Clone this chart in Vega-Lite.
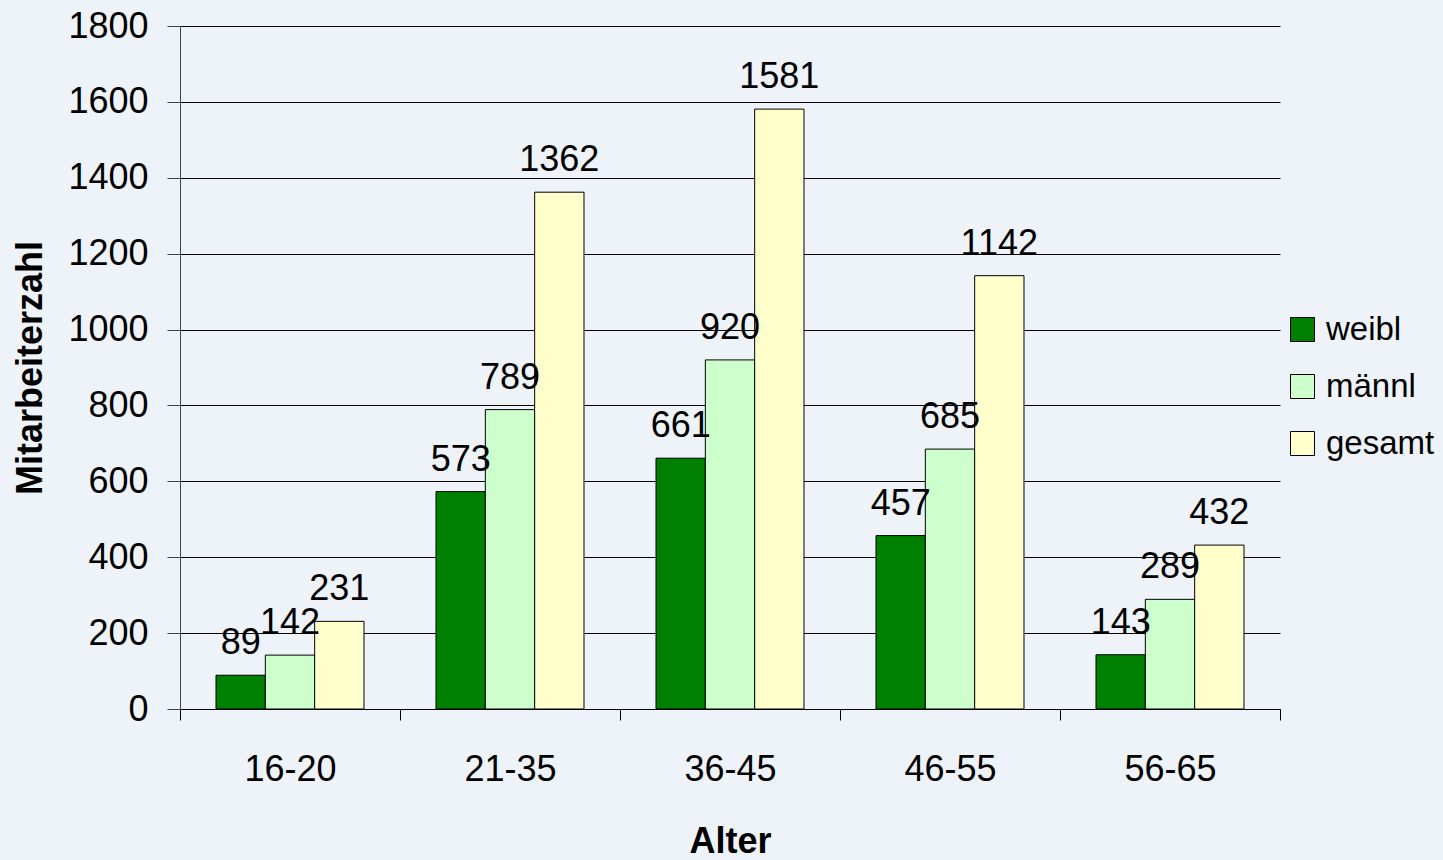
{
  "$schema": "https://vega.github.io/schema/vega-lite/v6.json",
  "autosize": "none",
  "width": 1100,
  "height": 683,
  "padding": {"left": 180, "top": 26, "right": 163, "bottom": 151},
  "background": "#EEF2F9",
  "config": {
    "view": {"stroke": null},
    "font": "Liberation Sans"
  },
  "data": {
    "values": [
      {"Alter": "16-20", "Gruppe": "weibl", "Anzahl": 89},
      {"Alter": "16-20", "Gruppe": "männl", "Anzahl": 142},
      {"Alter": "16-20", "Gruppe": "gesamt", "Anzahl": 231},
      {"Alter": "21-35", "Gruppe": "weibl", "Anzahl": 573},
      {"Alter": "21-35", "Gruppe": "männl", "Anzahl": 789},
      {"Alter": "21-35", "Gruppe": "gesamt", "Anzahl": 1362},
      {"Alter": "36-45", "Gruppe": "weibl", "Anzahl": 661},
      {"Alter": "36-45", "Gruppe": "männl", "Anzahl": 920},
      {"Alter": "36-45", "Gruppe": "gesamt", "Anzahl": 1581},
      {"Alter": "46-55", "Gruppe": "weibl", "Anzahl": 457},
      {"Alter": "46-55", "Gruppe": "männl", "Anzahl": 685},
      {"Alter": "46-55", "Gruppe": "gesamt", "Anzahl": 1142},
      {"Alter": "56-65", "Gruppe": "weibl", "Anzahl": 143},
      {"Alter": "56-65", "Gruppe": "männl", "Anzahl": 289},
      {"Alter": "56-65", "Gruppe": "gesamt", "Anzahl": 432}
    ]
  },
  "encoding": {
    "x": {
      "field": "Alter", "type": "nominal",
      "scale": {"paddingInner": 0, "paddingOuter": 0},
      "axis": {
        "title": "Alter", "titleFont": "Liberation Sans", "titleFontSize": 36, "titleFontWeight": "bold",
        "titleColor": "#000", "titlePadding": 37,
        "labelAngle": 0, "labelFontSize": 36, "labelColor": "#000", "labelPadding": 32,
        "tickBand": "extent", "tickSize": 11, "tickColor": "#000", "domainColor": "#000",
        "grid": false
      }
    },
    "xOffset": {
      "field": "Gruppe", "type": "nominal",
      "scale": {"domain": ["weibl", "männl", "gesamt"], "paddingInner": 0, "paddingOuter": 0.73}
    },
    "y": {
      "field": "Anzahl", "type": "quantitative",
      "scale": {"domain": [0, 1800], "nice": false},
      "axis": {
        "title": "Mitarbeiterzahl", "titleFont": "Liberation Sans", "titleFontSize": 36, "titleFontWeight": "bold",
        "titleColor": "#000", "titlePadding": 18,
        "values": [0, 200, 400, 600, 800, 1000, 1200, 1400, 1600, 1800],
        "format": "d",
        "labelFontSize": 36, "labelColor": "#000", "labelPadding": 19,
        "tickSize": 13, "tickColor": "#444", "domainColor": "#444",
        "grid": true, "gridColor": "#000", "gridWidth": 1, "gridOpacity": 1
      }
    }
  },
  "layer": [
    {
      "mark": {"type": "bar", "stroke": "#000", "strokeWidth": 1},
      "encoding": {
        "color": {
          "field": "Gruppe", "type": "nominal",
          "scale": {"domain": ["weibl", "männl", "gesamt"], "range": ["#008000", "#CCFFCC", "#FFFFCC"]},
          "legend": {
            "title": null, "orient": "none", "legendX": 1106, "legendY": 287,
            "symbolType": "square", "symbolSize": 576, "symbolStrokeColor": "#000", "symbolStrokeWidth": 1,
            "symbolOpacity": 1,
            "labelFontSize": 33, "labelColor": "#000", "labelOffset": 7, "rowPadding": 23,
            "labelLimit": 200,
            "padding": 0
          }
        }
      }
    },
    {
      "mark": {"type": "text", "baseline": "alphabetic", "dy": -21, "fontSize": 36, "color": "#000"},
      "encoding": {
        "text": {"field": "Anzahl", "type": "quantitative"}
      }
    }
  ]
}
